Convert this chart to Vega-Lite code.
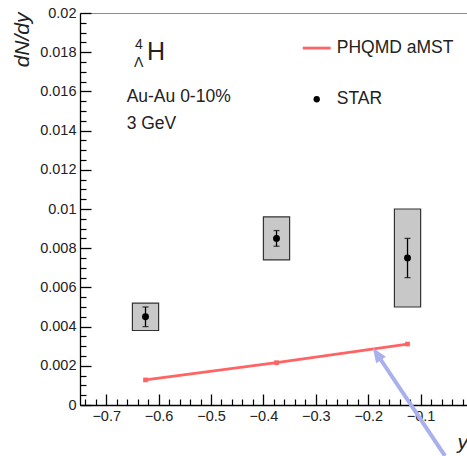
{
  "$schema": "https://vega.github.io/schema/vega-lite/v6.json",
  "width": 387,
  "height": 392,
  "autosize": {"type": "none"},
  "padding": {"left": 80, "top": 13, "right": 0, "bottom": 51},
  "background": "white",
  "config": {
    "font": "Liberation Sans",
    "view": {"stroke": "#8c8c8c", "strokeWidth": 1},
    "axis": {"grid": false, "domainColor": "#000", "tickColor": "#000", "labelColor": "#222", "titleColor": "#222", "labelFont": "Liberation Sans", "titleFont": "Liberation Sans"}
  },
  "datasets": {
    "star": [
      {"rapidity": -0.625, "dndy": 0.0045, "stat_lo": 0.0040, "stat_hi": 0.0050, "sys_lo": 0.0038, "sys_hi": 0.0052, "bin_lo": -0.65, "bin_hi": -0.60},
      {"rapidity": -0.375, "dndy": 0.0085, "stat_lo": 0.0081, "stat_hi": 0.0089, "sys_lo": 0.0074, "sys_hi": 0.0096, "bin_lo": -0.40, "bin_hi": -0.35},
      {"rapidity": -0.125, "dndy": 0.0075, "stat_lo": 0.0065, "stat_hi": 0.0085, "sys_lo": 0.0050, "sys_hi": 0.0100, "bin_lo": -0.15, "bin_hi": -0.10}
    ],
    "phqmd": [
      {"rapidity": -0.625, "dndy": 0.00128},
      {"rapidity": -0.375, "dndy": 0.00216},
      {"rapidity": -0.125, "dndy": 0.00311}
    ],
    "labels": [
      {"x": -0.661, "y": 0.01546, "text": "Au-Au 0-10%", "size": 17.5},
      {"x": -0.661, "y": 0.01408, "text": "3 GeV", "size": 17.5},
      {"x": -0.622, "y": 0.0176, "text": "H", "size": 25},
      {"x": -0.645, "y": 0.01815, "text": "4", "size": 14},
      {"x": -0.647, "y": 0.01725, "text": "Λ", "size": 14},
      {"x": -0.2601, "y": 0.01795, "text": "PHQMD aMST", "size": 17.5},
      {"x": -0.2601, "y": 0.01535, "text": "STAR", "size": 17.5}
    ],
    "legend_line": [{"x": -0.325, "x2": -0.2716, "y": 0.01821}],
    "legend_dot": [{"x": -0.2983, "y": 0.0156}],
    "arrow": [{"x": -0.0535, "y": -0.0026, "x2": -0.1830, "y2": 0.00259, "tip_x": -0.1830, "tip_y": 0.00259}]
  },
  "layer": [
    {
      "data": {"name": "star"},
      "mark": {"type": "rect", "fill": "#c8c8c8", "stroke": "#333", "strokeWidth": 1.2},
      "encoding": {
        "x": {"field": "bin_lo", "type": "quantitative", "scale": {"domain": [-0.75, -0.0115], "nice": false, "zero": false},
          "axis": {"orient": "bottom", "values": [-0.7, -0.6, -0.5, -0.4, -0.3, -0.2, -0.1], "format": ".1f", "tickSize": -11, "tickWidth": 1.3, "domainWidth": 1.3, "labelPadding": 15, "labelFontSize": 14.5,
            "title": "y", "titleFontStyle": "italic", "titleFontWeight": "normal", "titleFontSize": 21, "titleX": 377, "titleY": 43, "titleAlign": "left", "titleBaseline": "alphabetic"}},
        "x2": {"field": "bin_hi"},
        "y": {"field": "sys_lo", "type": "quantitative", "scale": {"domain": [0, 0.02], "nice": false},
          "axis": {"orient": "left", "values": [0, 0.002, 0.004, 0.006, 0.008, 0.01, 0.012, 0.014, 0.016, 0.018, 0.02], "labelExpr": "format(datum.value, '~g')", "tickSize": -11, "tickWidth": 1.3, "domainWidth": 1.3, "labelPadding": 15, "labelFontSize": 14.5,
            "title": "dN/dy", "titleFontStyle": "italic", "titleFontWeight": "normal", "titleFontSize": 21, "titleAngle": -90, "titleX": -52, "titleY": -1, "titleAlign": "right", "titleBaseline": "alphabetic"}},
        "y2": {"field": "sys_hi"}
      }
    },
    {
      "data": {"name": "star"},
      "mark": {"type": "rule", "color": "#000", "strokeWidth": 1.3},
      "encoding": {
        "x": {"field": "rapidity", "type": "quantitative", "scale": {"domain": [-0.75, -0.0115], "nice": false, "zero": false},
          "axis": {"orient": "bottom", "values": [-0.74, -0.72, -0.68, -0.66, -0.64, -0.62, -0.58, -0.56, -0.54, -0.52, -0.48, -0.46, -0.44, -0.42, -0.38, -0.36, -0.34, -0.32, -0.28, -0.26, -0.24, -0.22, -0.18, -0.16, -0.14, -0.12, -0.08, -0.06, -0.04, -0.02], "tickSize": -6, "tickWidth": 1.2, "labels": false, "domain": false, "title": null}},
        "y": {"field": "stat_lo", "type": "quantitative", "scale": {"domain": [0, 0.02], "nice": false},
          "axis": {"orient": "left", "values": [0.0005, 0.001, 0.0015, 0.0025, 0.003, 0.0035, 0.0045, 0.005, 0.0055, 0.0065, 0.007, 0.0075, 0.0085, 0.009, 0.0095, 0.0105, 0.011, 0.0115, 0.0125, 0.013, 0.0135, 0.0145, 0.015, 0.0155, 0.0165, 0.017, 0.0175, 0.0185, 0.019, 0.0195], "tickSize": -6, "tickWidth": 1.2, "labels": false, "domain": false, "title": null}},
        "y2": {"field": "stat_hi"}
      }
    },
    {
      "data": {"name": "star"},
      "mark": {"type": "tick", "orient": "horizontal", "color": "#000", "size": 6, "thickness": 1.3},
      "encoding": {
        "x": {"field": "rapidity", "type": "quantitative", "scale": {"domain": [-0.75, -0.0115], "nice": false, "zero": false}, "axis": null},
        "y": {"field": "stat_lo", "type": "quantitative", "scale": {"domain": [0, 0.02], "nice": false}, "axis": null}
      }
    },
    {
      "data": {"name": "star"},
      "mark": {"type": "tick", "orient": "horizontal", "color": "#000", "size": 6, "thickness": 1.3},
      "encoding": {
        "x": {"field": "rapidity", "type": "quantitative", "scale": {"domain": [-0.75, -0.0115], "nice": false, "zero": false}, "axis": null},
        "y": {"field": "stat_hi", "type": "quantitative", "scale": {"domain": [0, 0.02], "nice": false}, "axis": null}
      }
    },
    {
      "data": {"name": "star"},
      "mark": {"type": "point", "filled": true, "shape": "circle", "color": "#000", "size": 48, "opacity": 1},
      "encoding": {
        "x": {"field": "rapidity", "type": "quantitative", "scale": {"domain": [-0.75, -0.0115], "nice": false, "zero": false}, "axis": null},
        "y": {"field": "dndy", "type": "quantitative", "scale": {"domain": [0, 0.02], "nice": false}, "axis": null}
      }
    },
    {
      "data": {"name": "phqmd"},
      "mark": {"type": "line", "color": "#ff6363", "strokeWidth": 2.8, "point": {"shape": "square", "size": 22, "filled": true, "color": "#ff6363"}},
      "encoding": {
        "x": {"field": "rapidity", "type": "quantitative", "scale": {"domain": [-0.75, -0.0115], "nice": false, "zero": false}, "axis": null},
        "y": {"field": "dndy", "type": "quantitative", "scale": {"domain": [0, 0.02], "nice": false}, "axis": null}
      }
    },
    {
      "data": {"name": "legend_line"},
      "mark": {"type": "rule", "color": "#ff6363", "strokeWidth": 2.8},
      "encoding": {
        "x": {"field": "x", "type": "quantitative", "scale": {"domain": [-0.75, -0.0115], "nice": false, "zero": false}, "axis": null},
        "x2": {"field": "x2"},
        "y": {"field": "y", "type": "quantitative", "scale": {"domain": [0, 0.02], "nice": false}, "axis": null}
      }
    },
    {
      "data": {"name": "legend_dot"},
      "mark": {"type": "point", "filled": true, "shape": "circle", "color": "#000", "size": 40, "opacity": 1},
      "encoding": {
        "x": {"field": "x", "type": "quantitative", "scale": {"domain": [-0.75, -0.0115], "nice": false, "zero": false}, "axis": null},
        "y": {"field": "y", "type": "quantitative", "scale": {"domain": [0, 0.02], "nice": false}, "axis": null}
      }
    },
    {
      "data": {"name": "labels"},
      "mark": {"type": "text", "align": "left", "baseline": "alphabetic", "color": "#222", "font": "Liberation Sans"},
      "encoding": {
        "x": {"field": "x", "type": "quantitative", "scale": {"domain": [-0.75, -0.0115], "nice": false, "zero": false}, "axis": null},
        "y": {"field": "y", "type": "quantitative", "scale": {"domain": [0, 0.02], "nice": false}, "axis": null},
        "text": {"field": "text"},
        "size": {"field": "size", "type": "quantitative", "scale": null}
      }
    },
    {
      "data": {"name": "arrow"},
      "mark": {"type": "rule", "color": "#aab0ee", "strokeWidth": 4, "clip": false},
      "encoding": {
        "x": {"field": "x", "type": "quantitative", "scale": {"domain": [-0.75, -0.0115], "nice": false, "zero": false}, "axis": null},
        "y": {"field": "y", "type": "quantitative", "scale": {"domain": [0, 0.02], "nice": false}, "axis": null},
        "x2": {"field": "x2"},
        "y2": {"field": "y2"}
      }
    },
    {
      "data": {"name": "arrow"},
      "mark": {"type": "point", "shape": "M0,-1L0.75,0.9L-0.75,0.9Z", "filled": true, "color": "#aab0ee", "opacity": 1, "size": 240, "angle": 326},
      "encoding": {
        "x": {"field": "tip_x", "type": "quantitative", "scale": {"domain": [-0.75, -0.0115], "nice": false, "zero": false}, "axis": null},
        "y": {"field": "tip_y", "type": "quantitative", "scale": {"domain": [0, 0.02], "nice": false}, "axis": null}
      }
    }
  ],
  "resolve": {"axis": {"x": "independent", "y": "independent"}}
}
